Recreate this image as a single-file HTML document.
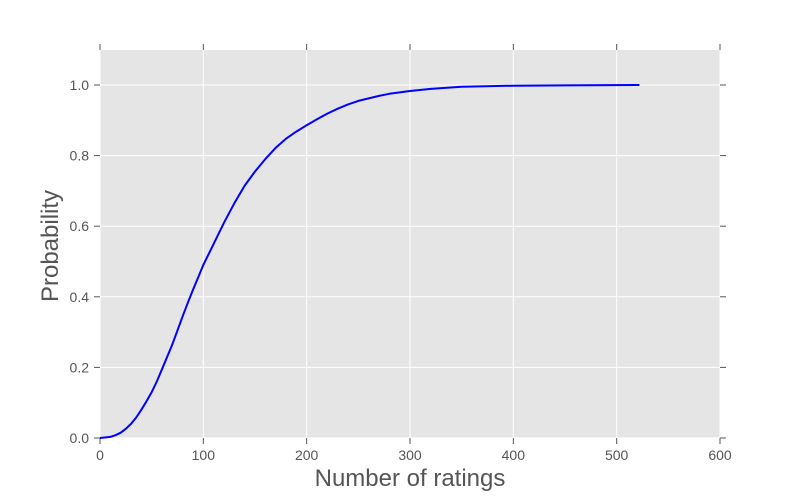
<!DOCTYPE html>
<html><head><meta charset="utf-8"><style>
body{margin:0;background:#fff;}
svg{display:block;font-family:"Liberation Sans","DejaVu Sans",sans-serif;}
</style></head><body>
<svg id="chart" width="800" height="500">
<rect x="100" y="50" width="620" height="388" fill="#e5e5e5"/>
<g id="grid"></g><g id="ticks"></g>
<path id="curve" fill="none" stroke="#0000ff" stroke-width="2" stroke-linejoin="round"/>
<text x="410" y="486" text-anchor="middle" font-size="24" fill="#555">Number of ratings</text>
<text transform="translate(58,246) rotate(-90)" text-anchor="middle" font-size="24" fill="#555">Probability</text>
</svg>
<script>
const xs=[0,10,15,20,25,30,35,40,45,50,55,60,65,70,75,80,85,90,95,100,110,120,130,140,150,160,170,180,190,200,210,220,230,240,250,260,270,280,290,300,320,350,400,450,522];
const ps=[0,0.003,0.008,0.015,0.026,0.04,0.058,0.08,0.104,0.13,0.16,0.195,0.23,0.265,0.305,0.345,0.383,0.42,0.455,0.49,0.55,0.61,0.665,0.715,0.755,0.79,0.822,0.848,0.868,0.886,0.903,0.919,0.933,0.945,0.955,0.962,0.969,0.975,0.979,0.983,0.989,0.995,0.998,0.999,1.0];
const xTicks=[0,100,200,300,400,500,600];
const yTicks=[0.0,0.2,0.4,0.6,0.8,1.0];
const X=v=>100+v*620/600, Y=v=>438-v*353;
const NS="http://www.w3.org/2000/svg";
const g=document.getElementById('grid'), t=document.getElementById('ticks');
function mk(p,tag,a){const e=document.createElementNS(NS,tag);for(const k in a)e.setAttribute(k,a[k]);p.appendChild(e);return e;}
xTicks.forEach(v=>{const x=X(v);
 const l=mk(g,'line',{x1:x,x2:x,y1:50,y2:438,stroke:'#fff','stroke-width':1});
 
 
 mk(t,'line',{x1:x,x2:x,y1:438,y2:444,stroke:'#555'});
 mk(t,'line',{x1:x,x2:x,y1:44,y2:50,stroke:'#555'});
 const tx=mk(t,'text',{x:x,y:460,'text-anchor':'middle','font-size':14,fill:'#555'});tx.textContent=v;
 
 
});
yTicks.forEach(v=>{const y=Y(v);
 const l=mk(g,'line',{x1:100,x2:720,y1:y,y2:y,stroke:'#fff','stroke-width':1});
 
 
 mk(t,'line',{x1:94,x2:100,y1:y,y2:y,stroke:'#555'});
 mk(t,'line',{x1:720,x2:726,y1:y,y2:y,stroke:'#555'});
 const tx=mk(t,'text',{x:89,y:y+5,'text-anchor':'end','font-size':14,fill:'#555'});tx.textContent=v.toFixed(1);
 
 
});
document.getElementById('curve').setAttribute('d',xs.map((v,i)=>(i?'L':'M')+X(v).toFixed(1)+','+Y(ps[i]).toFixed(1)).join(''));
</script>
</body></html>
